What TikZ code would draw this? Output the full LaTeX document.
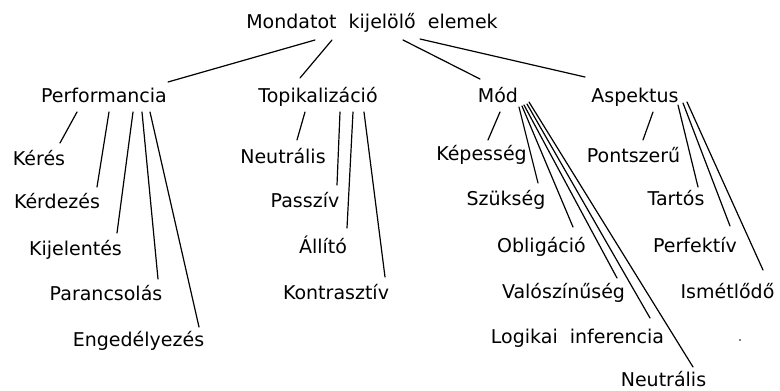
\documentclass[tikz,border=0pt]{standalone}
\usepackage{fontspec}
\setmainfont{DejaVu Sans}
\usetikzlibrary{calc}
\tikzset{
  lbl/.style={inner sep=0pt, anchor=base, font=\fontsize{19}{22}\selectfont},
  ln/.style={line width=1.2pt, line cap=round}
}
\begin{document}
\begin{tikzpicture}[x=1pt,y=-1pt]
\useasboundingbox (0,0) rectangle (780,391);
% level 0
\node[lbl] (root) at (372,28) {Mondatot\ \ kijelölő\ \ elemek};
% level 1
\node[lbl] (perf) at (104,102) {Performancia};
\node[lbl] (topik) at (318,102) {Topikalizáció};
\node[lbl] (mod) at (498,102) {Mód};
\node[lbl] (asp) at (635,102) {Aspektus};
% Performancia children
\node[lbl] (keres) at (39,165) {Kérés};
\node[lbl] (kerdezes) at (57,208) {Kérdezés};
\node[lbl] (kijel) at (75.5,255) {Kijelentés};
\node[lbl] (paranc) at (106,300) {Parancsolás};
\node[lbl] (enged) at (138.5,346) {Engedélyezés};
% Topikalizáció children
\node[lbl] (neutrA) at (283,163) {Neutrális};
\node[lbl] (passziv) at (305,207) {Passzív};
\node[lbl] (allito) at (323,253) {Állító};
\node[lbl] (kontr) at (336,299) {Kontrasztív};
% Mód children
\node[lbl] (kepes) at (481.5,160) {Képesség};
\node[lbl] (szuks) at (506,205) {Szükség};
\node[lbl] (oblig) at (541.5,252) {Obligáció};
\node[lbl] (valo) at (563.5,298) {Valószínűség};
\node[lbl] (logik) at (577.5,343) {Logikai\ \ inferencia};
\node[lbl] (neutrB) at (663.5,386) {Neutrális};
% Aspektus children
\node[lbl] (pont) at (633.5,162) {Pontszerű};
\node[lbl] (tartos) at (676,205) {Tartós};
\node[lbl] (perfek) at (695,252) {Perfektív};
\node[lbl] (ismet) at (727.5,298) {Ismétlődő};
% connectors from root
\draw[ln] ($(root.base)+(-57,12)$) -- ($(perf.base)+(64,-20)$);
\draw[ln] ($(root.base)+(-40,12)$) -- ($(topik.base)+(-18,-24)$);
\draw[ln] ($(root.base)+(31,12)$) -- ($(mod.base)+(-18,-23)$);
\draw[ln] ($(root.base)+(48,11)$) -- ($(asp.base)+(-50,-25)$);
% Performancia
\draw[ln] ($(perf.base)+(-27,10)$) -- ($(keres.base)+(21,-22)$);
\draw[ln] ($(perf.base)+(5,10)$) -- ($(kerdezes.base)+(40,-21)$);
\draw[ln] ($(perf.base)+(29,10)$) -- ($(kijel.base)+(41.5,-22)$);
\draw[ln] ($(perf.base)+(38,10)$) -- ($(paranc.base)+(52,-21)$);
\draw[ln] ($(perf.base)+(46,10)$) -- ($(enged.base)+(60.5,-19)$);
% Topikalizáció
\draw[ln] ($(topik.base)+(-13,10)$) -- ($(neutrA.base)+(14,-23)$);
\draw[ln] ($(topik.base)+(22,10)$) -- ($(passziv.base)+(32,-22)$);
\draw[ln] ($(topik.base)+(35,10)$) -- ($(allito.base)+(24,-25)$);
\draw[ln] ($(topik.base)+(46,10)$) -- ($(kontr.base)+(49,-22)$);
% Mód
\draw[ln] ($(mod.base)+(2,10)$) -- ($(kepes.base)+(6.5,-20)$);
\draw[ln] ($(mod.base)+(21,5)$) -- ($(szuks.base)+(32,-22)$);
\draw[ln] ($(mod.base)+(24,4)$) -- ($(oblig.base)+(31.5,-25)$);
\draw[ln] ($(mod.base)+(26,3)$) -- ($(valo.base)+(53.5,-20)$);
\draw[ln] ($(mod.base)+(29,2)$) -- ($(logik.base)+(72.5,-25)$);
\draw[ln] ($(mod.base)+(31,0)$) -- ($(neutrB.base)+(29.5,-19)$);
% Aspektus
\draw[ln] ($(asp.base)+(18,10)$) -- ($(pont.base)+(9.5,-22)$);
\draw[ln] ($(asp.base)+(43,3)$) -- ($(tartos.base)+(22,-18)$);
\draw[ln] ($(asp.base)+(48,1)$) -- ($(perfek.base)+(35,-26)$);
\draw[ln] ($(asp.base)+(52,0)$) -- ($(ismet.base)+(35.5,-28)$);
% stray dot
\fill (740,340) circle (0.9);
\end{tikzpicture}
\end{document}
